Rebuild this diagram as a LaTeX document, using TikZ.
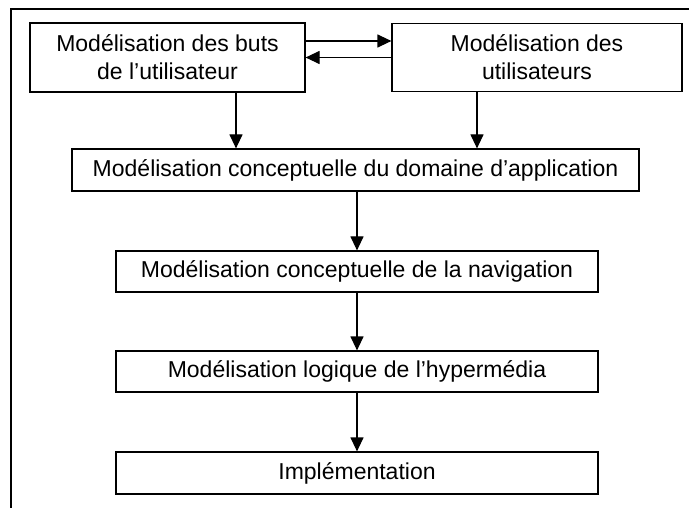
\documentclass[tikz,border=0pt]{standalone}
\usepackage{fontspec}
\setmainfont{Liberation Sans}
\usetikzlibrary{arrows.meta}

\tikzset{
  etape/.style={draw, line width=1.2pt, align=center, inner sep=0pt,
    font=\fontsize{23}{28}\selectfont},
  fleche/.style={line width=1.2pt, -{Triangle[length=14pt,width=13pt]}}
}

\begin{document}
\begin{tikzpicture}[x=1pt,y=-1pt]
\useasboundingbox (0,0) rectangle (689,508);
\draw[line width=1.6pt] (689,9)--(11,9)--(11,508);
\node[etape, minimum width=275pt, minimum height=69pt] (buts) at (167.5,57.5) {Modélisation des buts\\de l’utilisateur};
\node[etape, minimum width=290pt, minimum height=68pt] (util) at (537,57.5) {Modélisation des\\utilisateurs};
\node[etape, minimum width=567pt, minimum height=42pt] (domaine) at (355.5,170) {Modélisation conceptuelle du domaine d’application};
\node[etape, minimum width=482pt, minimum height=41pt] (navig) at (357,271.5) {Modélisation conceptuelle de la navigation};
\node[etape, minimum width=482pt, minimum height=41pt] (hyper) at (357,371.5) {Modélisation logique de l’hypermédia};
\node[etape, minimum width=482pt, minimum height=42pt] (impl) at (357,473) {Implémentation};
\draw[fleche] ([yshift=16.5pt]buts.east) -- ([yshift=16.5pt]buts.east -| util.west);
\draw[fleche] (util.west) -- (util.west -| buts.east);
\draw[fleche] ([xshift=68.5pt]buts.south) -- ([xshift=68.5pt]buts.south |- domaine.north);
\draw[fleche] ([xshift=-60pt]util.south) -- ([xshift=-60pt]util.south |- domaine.north);
\draw[fleche] (domaine.south -| navig.north) -- (navig.north);
\draw[fleche] (navig.south) -- (hyper.north);
\draw[fleche] (hyper.south) -- (impl.north);
\end{tikzpicture}
\end{document}
